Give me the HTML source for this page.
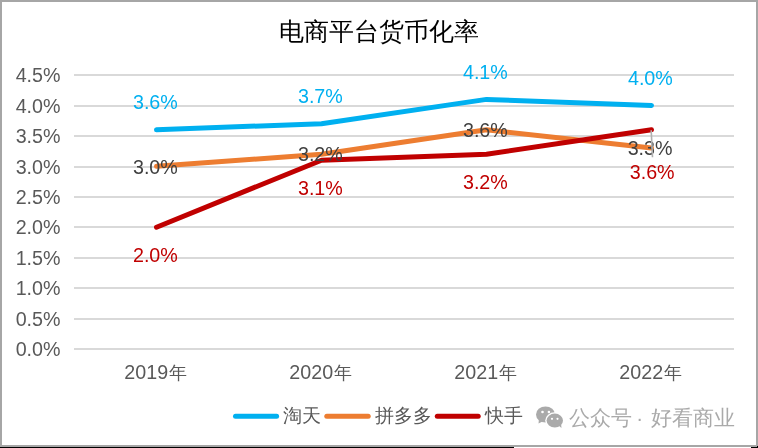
<!DOCTYPE html>
<html><head><meta charset="utf-8">
<style>
html,body{margin:0;padding:0;background:#fff;}
body{width:758px;height:448px;overflow:hidden;position:relative;font-family:"Liberation Sans",sans-serif;}
svg{position:absolute;left:0;top:0;will-change:transform;}
svg text{font-family:"Liberation Sans",sans-serif;}
</style></head><body>
<svg width="758" height="448" viewBox="0 0 758 448">
<!-- frame -->
<rect x="0" y="0" width="758" height="448" fill="#fff"/>
<rect x="0" y="0" width="758" height="2" fill="#a6a6a6"/>
<rect x="0" y="0" width="2" height="447" fill="#a6a6a6"/>
<rect x="756" y="0" width="2" height="447" fill="#a6a6a6"/>
<rect x="0" y="445" width="758" height="2" fill="#a6a6a6"/>
<rect x="0" y="447" width="514" height="1" fill="#000"/>
<rect x="751" y="447" width="7" height="1" fill="#000"/>
<rect x="757" y="446" width="1" height="1" fill="#000"/>

<!-- title -->
<text x="379" y="40" font-size="25" fill="#000" text-anchor="middle">电商平台货币化率</text>

<!-- gridlines -->
<g fill="#d9d9d9">
<rect x="74" y="74" width="660" height="2"/>
<rect x="74" y="105" width="660" height="2"/>
<rect x="74" y="135" width="660" height="2"/>
<rect x="74" y="166" width="660" height="2"/>
<rect x="74" y="196" width="660" height="2"/>
<rect x="74" y="226" width="660" height="2"/>
<rect x="74" y="257" width="660" height="2"/>
<rect x="74" y="287" width="660" height="2"/>
<rect x="74" y="318" width="660" height="2"/>
<rect x="74" y="348" width="660" height="2"/>
</g>

<!-- y axis labels -->
<g font-size="19.7" fill="#595959" text-anchor="end" transform="translate(0.5,0.3)">
<text x="60" y="81.8">4.5%</text>
<text x="60" y="112.8">4.0%</text>
<text x="60" y="142.8">3.5%</text>
<text x="60" y="173.8">3.0%</text>
<text x="60" y="203.8">2.5%</text>
<text x="60" y="233.8">2.0%</text>
<text x="60" y="264.8">1.5%</text>
<text x="60" y="294.8">1.0%</text>
<text x="60" y="325.8">0.5%</text>
<text x="60" y="355.8">0.0%</text>
</g>

<!-- x axis labels -->
<g font-size="19.7" fill="#595959" text-anchor="middle">
<text x="155.5" y="378.8">2019<tspan font-size="17.6" dx="0.6">年</tspan></text>
<text x="320.5" y="378.8">2020<tspan font-size="17.6" dx="0.6">年</tspan></text>
<text x="485.5" y="378.8">2021<tspan font-size="17.6" dx="0.6">年</tspan></text>
<text x="650.5" y="378.8">2022<tspan font-size="17.6" dx="0.6">年</tspan></text>
</g>

<!-- series -->
<g fill="none" stroke-width="5" stroke-linecap="round" stroke-linejoin="round">
<polyline stroke="#00b0f0" points="156.5,129.8 321.5,123.7 486.5,99.4 651.5,105.4"/>
<polyline stroke="#ed7d31" points="156.5,166.3 321.5,154.2 486.5,129.8 651.5,148.1"/>
<polyline stroke="#c00000" points="156.5,227.2 321.5,160.2 486.5,154.2 651.5,129.8"/>
</g>


<!-- data labels -->
<g font-size="19.7" text-anchor="middle">
<g fill="#00b0f0">
<text x="155.4" y="109.1">3.6%</text>
<text x="320.4" y="103">3.7%</text>
<text x="485.4" y="78.7">4.1%</text>
<text x="650.4" y="84.8">4.0%</text>
</g>
<g fill="#404040">
<text x="155.4" y="173.6">3.0%</text>
<text x="320.4" y="161">3.2%</text>
<text x="485.4" y="136.8">3.6%</text>
<text x="650.1" y="154.8">3.3%</text>
</g>
<g fill="#c00000">
<text x="155.4" y="261.9">2.0%</text>
<text x="320.4" y="194.8">3.1%</text>
<text x="485.4" y="188.7">3.2%</text>
<text x="652.2" y="179">3.6%</text>
</g>
</g>

<!-- leader line -->
<line x1="651.2" y1="130.3" x2="652.5" y2="157.2" stroke="#b0b0b0" stroke-width="1.6"/>

<!-- legend -->
<g stroke-width="5" stroke-linecap="round">
<line x1="235.5" y1="416.3" x2="276.6" y2="416.3" stroke="#00b0f0"/>
<line x1="326.8" y1="416.3" x2="368.2" y2="416.3" stroke="#ed7d31"/>
<line x1="437.3" y1="416.3" x2="478.2" y2="416.3" stroke="#c00000"/>
</g>
<g font-size="18.5" fill="#595959">
<text x="283.3" y="421.8">淘天</text>
<text x="374.6" y="421.8">拼多多</text>
<text x="484.8" y="421.8">快手</text>
</g>

<!-- watermark -->
<g fill="#aaaaaa">
<ellipse cx="545.5" cy="414.5" rx="9.5" ry="8"/>
<path d="M539,419 L538.5,423.5 L543.5,421 Z"/>
<ellipse cx="554.8" cy="420.6" rx="9.6" ry="8.4" fill="#fff"/>
<ellipse cx="554.8" cy="420.6" rx="8.2" ry="7"/>
<path d="M558,425 L561.5,428 L561,423 Z"/>
</g>
<g fill="#fff">
<circle cx="542.5" cy="412" r="1.3"/>
<circle cx="548.9" cy="412" r="1.3"/>
<circle cx="552" cy="418.8" r="1.1"/>
<circle cx="557.5" cy="418.8" r="1.1"/>
</g>
<g font-size="20.5" fill="#aaaaaa">
<text x="569" y="424.9">公众号</text>
<text x="639.6" y="424.9" text-anchor="middle">·</text>
<text x="651" y="424.9">好看商业</text>
</g>
</svg>
</body></html>
